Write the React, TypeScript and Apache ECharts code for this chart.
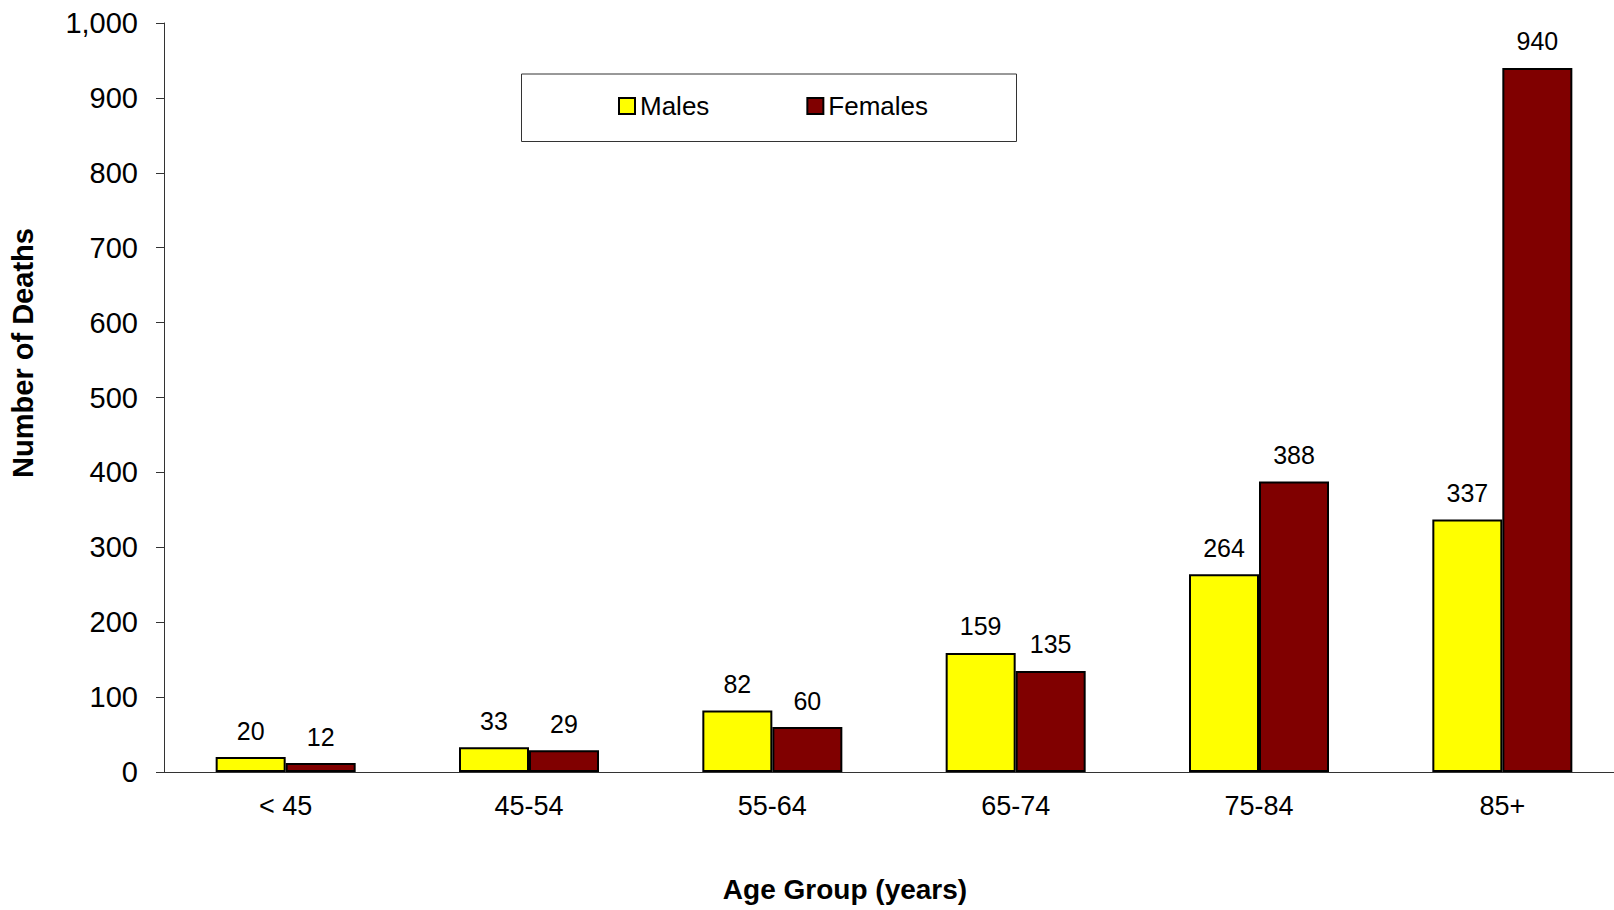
import React, { useEffect, useRef } from "react";
import * as echarts from "echarts";

const categories = ["< 45", "45-54", "55-64", "65-74", "75-84", "85+"];
const males = [20, 33, 82, 159, 264, 337];
const females = [12, 29, 60, 135, 388, 940];
const seriesNames = ["Males", "Females"];
const yAxisTitle = "Number of Deaths";
const xAxisTitle = "Age Group (years)";

const FONT = "'Liberation Sans', Arial, sans-serif";

export default function App() {
  const ref = useRef<HTMLDivElement>(null);
  useEffect(() => {
    if (!ref.current) return;
    const chart = echarts.init(ref.current, undefined, { renderer: "svg" });
    const labelCfg = {
      show: true,
      position: "top",
      distance: 14,
      color: "#000",
      fontSize: 25,
      fontFamily: FONT,
    };
    chart.setOption({
      animation: false,
      backgroundColor: "#fff",
      textStyle: { fontFamily: FONT },
      grid: {
        left: 164,
        top: 23,
        width: 1460,
        height: 749,
        containLabel: false,
        outerBoundsMode: "none",
      },
      legend: {
        data: seriesNames,
        left: 618,
        top: 93,
        padding: 0,
        itemWidth: 16,
        itemHeight: 16,
        itemGap: 97,
        icon: "rect",
        z: 10,
        itemStyle: { borderColor: "#000", borderWidth: 2 },
        textStyle: { fontSize: 26, color: "#000", fontFamily: FONT },
      },
      xAxis: {
        type: "category",
        data: categories,
        axisLine: { lineStyle: { color: "#333", width: 1 } },
        axisTick: { show: false },
        axisLabel: { color: "#000", fontSize: 27, fontFamily: FONT, margin: 20 },
      },
      yAxis: {
        type: "value",
        min: 0,
        max: 1000,
        interval: 100,
        splitLine: { show: false },
        axisLine: { show: true, lineStyle: { color: "#333", width: 1 } },
        axisTick: { show: true, length: 8, lineStyle: { color: "#333" } },
        axisLabel: {
          color: "#000",
          fontSize: 29,
          fontFamily: FONT,
          margin: 26,
          formatter: (v: number) => v.toLocaleString("en-US"),
        },
      },
      series: [
        {
          name: seriesNames[0],
          type: "bar",
          data: males,
          barWidth: 70,
          barGap: "0%",
          itemStyle: { color: "#FFFF00", borderColor: "#000", borderWidth: 2 },
          label: labelCfg,
        },
        {
          name: seriesNames[1],
          type: "bar",
          data: females,
          barWidth: 70,
          barGap: "0%",
          itemStyle: { color: "#800000", borderColor: "#000", borderWidth: 2 },
          label: labelCfg,
        },
      ],
      graphic: [
        {
          type: "rect",
          z: 1,
          shape: { x: 521.5, y: 74, width: 495, height: 67.5 },
          style: { fill: "#fff", stroke: "#333", lineWidth: 1 },
        },
        {
          type: "text",
          x: 23,
          y: 353,
          rotation: Math.PI / 2,
          style: {
            text: yAxisTitle,
            font: `bold 29px ${FONT}`,
            fill: "#000",
            align: "center",
            verticalAlign: "middle",
          },
        },
        {
          type: "text",
          x: 845,
          y: 889,
          style: {
            text: xAxisTitle,
            font: `bold 28px ${FONT}`,
            fill: "#000",
            align: "center",
            verticalAlign: "middle",
          },
        },
      ],
    });
    return () => chart.dispose();
  }, []);
  return (
    <div
      ref={ref}
      style={{ position: "fixed", left: 0, top: 0, width: 1614, height: 910, background: "#fff" }}
    />
  );
}
